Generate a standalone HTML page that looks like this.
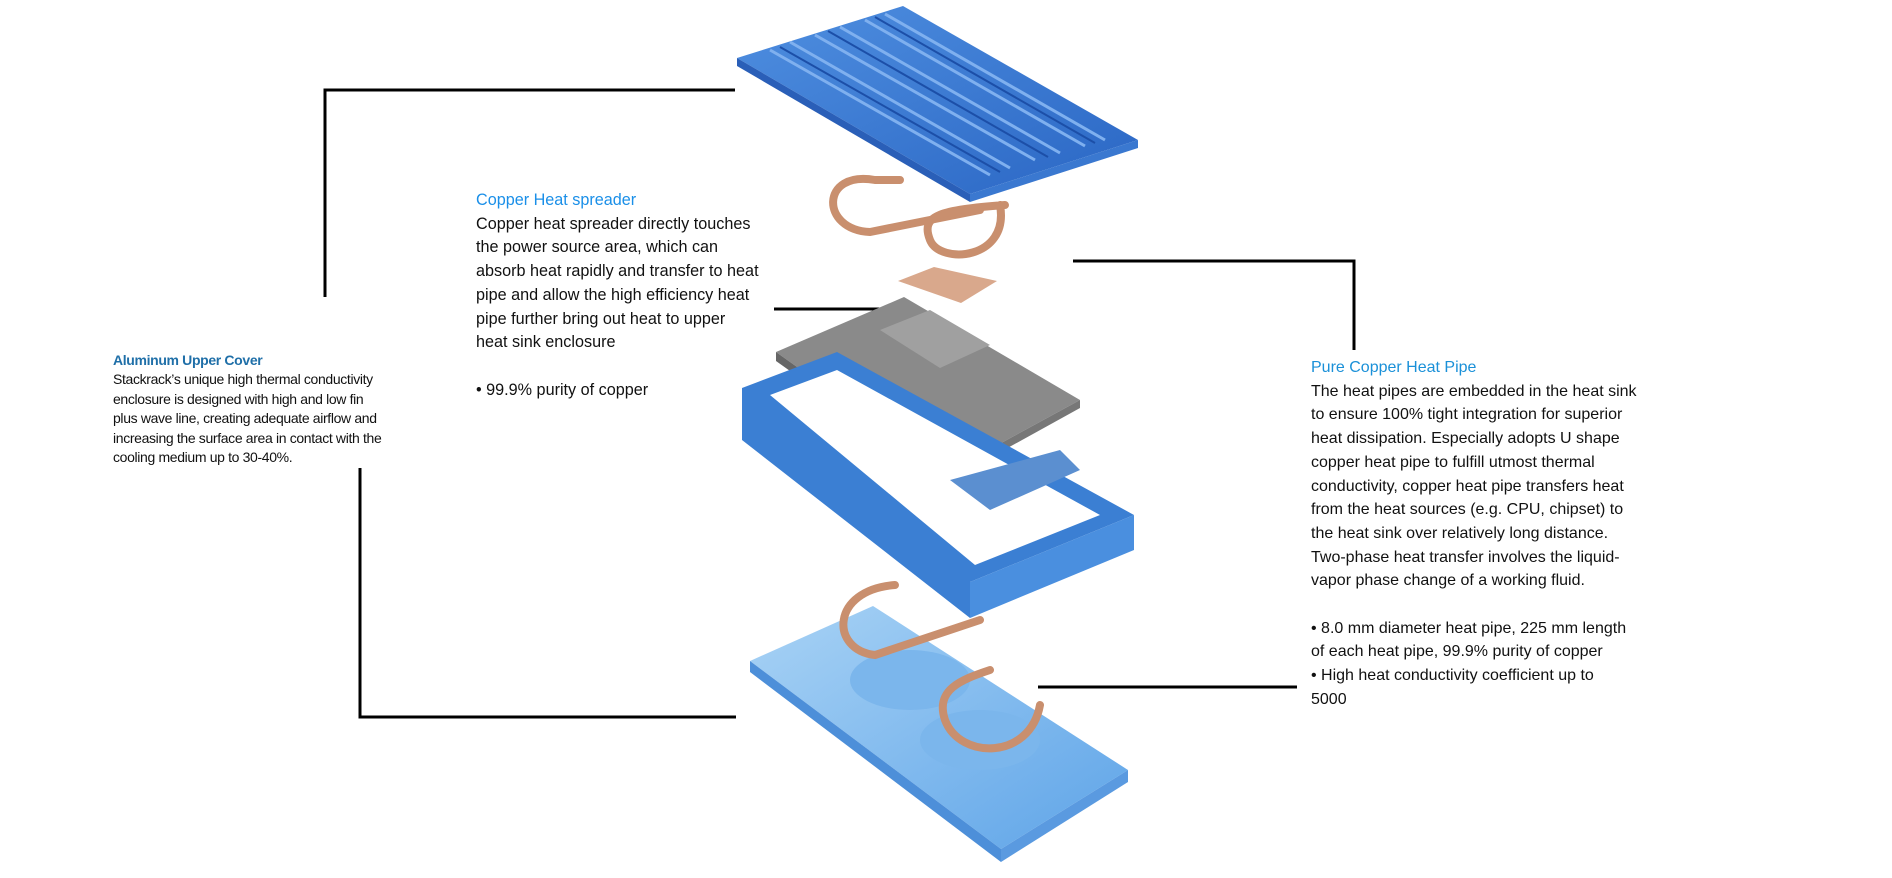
<!DOCTYPE html>
<html><head><meta charset="utf-8"><style>
html,body{margin:0;padding:0;background:#fff;}
body{width:1892px;height:878px;position:relative;overflow:hidden;font-family:"Liberation Sans",sans-serif;}
.t{position:absolute;color:#111;}
.c{font-size:16.2px;line-height:23.7px;}
.r{font-size:16px;line-height:23.7px;}
.s{font-size:14px;line-height:19.4px;letter-spacing:-0.35px;}
.h1{color:#1a8fe8;}
.h2{color:#1f6fa8;font-weight:bold;}
.h3{color:#1a90d8;}
</style></head><body>
<svg width="1892" height="878" style="position:absolute;left:0;top:0">
<defs>
<linearGradient id="b1" x1="0" y1="0" x2="1" y2="1"><stop offset="0" stop-color="#4f8fe0"/><stop offset="1" stop-color="#2a66c4"/></linearGradient>
<linearGradient id="b2" x1="0" y1="0" x2="1" y2="1"><stop offset="0" stop-color="#a9d3f5"/><stop offset="1" stop-color="#5ea4e8"/></linearGradient>
</defs>
<g stroke="#000" stroke-width="3" fill="none">
<polyline points="325,297 325,90 735,90"/>
<polyline points="360,468 360,717 736,717"/>
<line x1="774" y1="309" x2="888" y2="309"/>
<polyline points="1073,261 1354,261 1354,350"/>
<line x1="1038" y1="687" x2="1297" y2="687"/>
</g>
<polygon points="737,58 903,6 1138,140 970,194" fill="url(#b1)"/>
<polygon points="737,58 970,194 970,202 737,66" fill="#2a5fb8"/>
<polygon points="970,194 1138,140 1138,148 970,202" fill="#3a78d0"/>
<g stroke="#7fb0ef" stroke-width="3">
<line x1="770" y1="50" x2="990" y2="175"/><line x1="790" y1="42" x2="1010" y2="168"/>
<line x1="815" y1="35" x2="1035" y2="160"/><line x1="840" y1="27" x2="1060" y2="153"/>
<line x1="865" y1="20" x2="1085" y2="146"/><line x1="885" y1="14" x2="1105" y2="140"/>
</g>
<g stroke="#1c4fa8" stroke-width="2">
<line x1="780" y1="47" x2="1000" y2="172"/><line x1="828" y1="31" x2="1048" y2="157"/><line x1="875" y1="17" x2="1095" y2="143"/>
</g>
<g fill="none" stroke="#c98f6e" stroke-width="8" stroke-linecap="round">
<path d="M900,180 L875,180 C820,170 820,230 870,232 L980,210"/>
<path d="M1000,205 C1010,260 940,265 930,240 C920,215 940,210 1005,205"/>
</g>
<polygon points="898,281 934,267 997,281 961,303" fill="#d9a88c"/>
<polygon points="776,352 904,297 1080,400 946,473" fill="#8a8a8a"/>
<polygon points="776,352 946,473 946,482 776,361" fill="#666"/>
<polygon points="946,473 1080,400 1080,408 946,482" fill="#777"/>
<polygon points="880,330 930,310 990,345 940,368" fill="#a0a0a0"/>
<polygon points="742,388 837,352 1134,515 970,582 970,618 742,440" fill="#3b7fd3"/>
<polygon points="970,582 1134,515 1134,550 970,618" fill="#4a8fdf"/>
<polygon points="770,395 837,370 1100,515 975,565" fill="#fff"/>
<polygon points="950,480 1060,450 1080,470 990,510" fill="#5b8fd0"/>
<polygon points="750,661 873,606 1128,770 1001,849" fill="url(#b2)"/>
<polygon points="750,661 1001,849 1001,862 750,672" fill="#4d8fd9"/>
<polygon points="1001,849 1128,770 1128,782 1001,862" fill="#5a9ae0"/>
<ellipse cx="910" cy="680" rx="60" ry="30" fill="#7bb6ec"/>
<ellipse cx="980" cy="740" rx="60" ry="30" fill="#7bb6ec"/>
<g fill="none" stroke="#c98f6e" stroke-width="8" stroke-linecap="round">
<path d="M895,585 C830,590 830,650 875,655 L980,620"/>
<path d="M1040,705 C1030,760 960,760 945,720 C935,690 960,680 990,670"/>
</g>
</svg>
<div class="t c" style="left:476px;top:189px;width:340px">
<div class="h1">Copper Heat spreader</div>
Copper heat spreader directly touches<br>the power source area, which can<br>absorb heat rapidly and transfer to heat<br>pipe and allow the high efficiency heat<br>pipe further bring out heat to upper<br>heat sink enclosure<br><br>• 99.9% purity of copper
</div>
<div class="t s" style="left:113px;top:351px;width:330px">
<div class="h2">Aluminum Upper Cover</div>
Stackrack’s unique high thermal conductivity<br>enclosure is designed with high and low fin<br>plus wave line, creating adequate airflow and<br>increasing the surface area in contact with the<br>cooling medium up to 30-40%.
</div>
<div class="t r" style="left:1311px;top:356px;width:380px">
<div class="h3">Pure Copper Heat Pipe</div>
The heat pipes are embedded in the heat sink<br>to ensure 100% tight integration for superior<br>heat dissipation. Especially adopts U shape<br>copper heat pipe to fulfill utmost thermal<br>conductivity, copper heat pipe transfers heat<br>from the heat sources (e.g. CPU, chipset) to<br>the heat sink over relatively long distance.<br>Two-phase heat transfer involves the liquid-<br>vapor phase change of a working fluid.<br><br>• 8.0 mm diameter heat pipe, 225 mm length<br>of each heat pipe, 99.9% purity of copper<br>• High heat conductivity coefficient up to<br>5000
</div>
</body></html>
